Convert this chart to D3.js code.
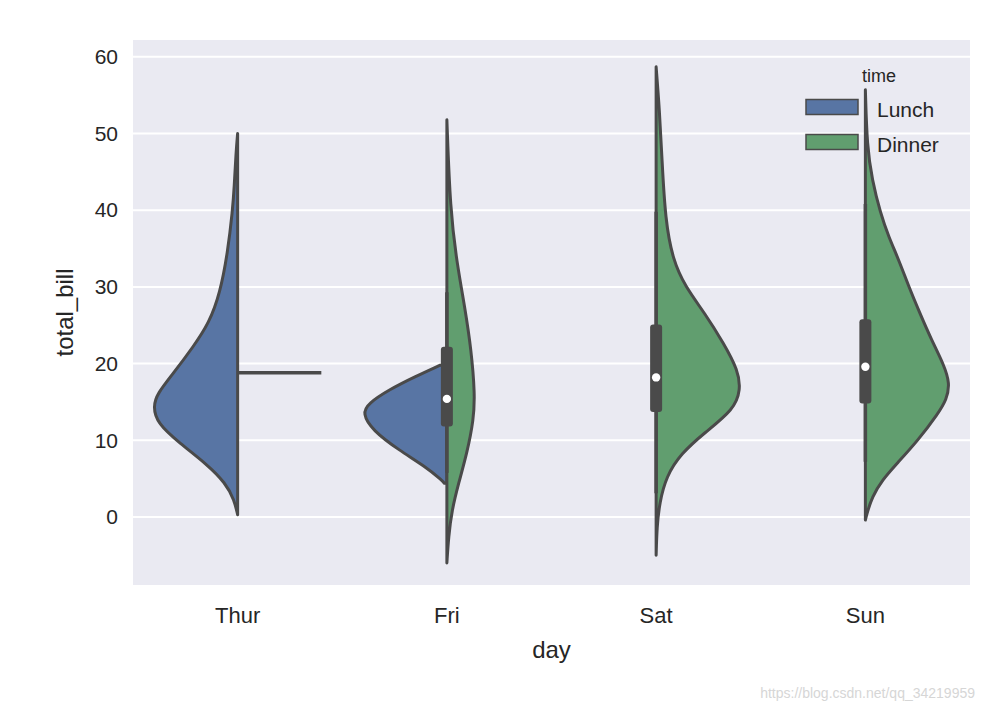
<!DOCTYPE html>
<html><head><meta charset="utf-8">
<script src="https://cdn.jsdelivr.net/npm/d3@7"></script>
<style>
body{margin:0;background:#fff}
text{font-family:"Liberation Sans",Arial,sans-serif;fill:#262626}
</style>
</head><body>
<svg id="c" width="984" height="712"></svg>
<script>
// ---- data ----
const days = ["Thur", "Fri", "Sat", "Sun"];
const times = ["Lunch", "Dinner"];
const colors = ["#5875A4", "#619E6F"];
const yTicks = [0, 10, 20, 30, 40, 50, 60];

// [total_bill, relative density] half-violin profiles
const thurLunch = [[50.0,0],[47.4,0.02],[43.1,0.04],[40.0,0.06],[34.4,0.12],[29.2,0.21],[25.3,0.34],[22.2,0.53],[18.7,0.77],[16.1,0.96],[14.4,1.01],[12.2,0.96],[9.6,0.69],[7.0,0.38],[4.4,0.14],[2.2,0.04],[0.3,0]];
const thurDinnerSingle = 18.8;
const friLunch = [[19.8,0.08],[18.3,0.38],[16.6,0.69],[14.8,0.94],[13.5,1.01],[11.3,0.89],[8.7,0.57],[6.6,0.26],[4.8,0.06],[4.4,0.03]];
const friDinner = [[51.8,0],[40.0,0.04],[33.1,0.12],[27.0,0.22],[21.8,0.29],[16.1,0.335],[12.7,0.32],[8.3,0.24],[4.4,0.14],[0.9,0.06],[-2.6,0.02],[-6.0,0]];
const satDinner = [[58.7,0],[53.1,0.04],[46.6,0.07],[38.7,0.11],[33.5,0.20],[30.0,0.35],[26.6,0.58],[22.6,0.81],[19.1,0.98],[16.6,1.01],[14.0,0.93],[10.9,0.57],[8.3,0.30],[5.3,0.12],[1.8,0.04],[-1.3,0.01],[-5.0,0]];
const sunDinner = [[55.7,0],[48.3,0.02],[44.0,0.08],[39.6,0.18],[36.5,0.28],[33.5,0.40],[30.0,0.52],[26.6,0.65],[23.1,0.79],[19.8,0.94],[17.4,1.01],[15.3,0.97],[13.5,0.87],[10.0,0.63],[7.0,0.38],[4.8,0.20],[2.6,0.08],[0.5,0.02],[-0.4,0]];

// inner box stats
const boxDays = ["Fri", "Sat", "Sun"];
const whiskerLow = [5.75, 3.1, 7.2];
const whiskerHigh = [29.3, 39.8, 40.8];
const q1 = [11.8, 13.7, 14.8];
const q3 = [22.2, 25.1, 25.8];
const medians = [15.4, 18.2, 19.6];

// ---- chart ----
const svg = d3.select("#c");
const L = 133, R = 970, T = 40, B = 585;
const x = d3.scaleBand().domain(days).range([L, R]);
const y = d3.scaleLinear().domain([-8.87, 62.2]).range([B, T]);
const w = d3.scaleLinear().domain([0, 1]).range([0, x.bandwidth() * 0.4]);
const color = d3.scaleOrdinal().domain(times).range(colors);
const edge = "#4a4a4a";

svg.append("rect").attr("x", L).attr("y", T).attr("width", R - L).attr("height", B - T).attr("fill", "#EAEAF2");
svg.append("g").selectAll("line").data(yTicks).join("line")
  .attr("x1", L).attr("x2", R).attr("y1", d => y(d)).attr("y2", d => y(d))
  .attr("stroke", "#fff").attr("stroke-width", 2);

const violins = [
  {day: "Thur", time: "Lunch", prof: thurLunch},
  {day: "Fri", time: "Lunch", prof: friLunch},
  {day: "Fri", time: "Dinner", prof: friDinner},
  {day: "Sat", time: "Dinner", prof: satDinner},
  {day: "Sun", time: "Dinner", prof: sunDinner}
];
const gv = svg.append("g");
violins.forEach(v => {
  const cx = x(v.day) + x.bandwidth() / 2;
  const s = v.time === "Lunch" ? -1 : 1;
  const area = d3.area().curve(d3.curveBasis)
    .y(d => y(d[0])).x0(cx).x1(d => cx + s * w(d[1]));
  gv.append("path").attr("d", area(v.prof))
    .attr("fill", color(v.time)).attr("stroke", edge).attr("stroke-width", 3)
    .attr("stroke-linejoin", "round");
});
// single observation (Thur dinner)
{
  const cx = x("Thur") + x.bandwidth() / 2;
  gv.append("line").attr("x1", cx).attr("x2", cx + w(1))
    .attr("y1", y(thurDinnerSingle)).attr("y2", y(thurDinnerSingle))
    .attr("stroke", edge).attr("stroke-width", 3.5);
}
// inner boxes
boxDays.forEach((d, i) => {
  const cx = x(d) + x.bandwidth() / 2;
  gv.append("line").attr("x1", cx).attr("x2", cx).attr("y1", y(whiskerLow[i])).attr("y2", y(whiskerHigh[i]))
    .attr("stroke", edge).attr("stroke-width", 3.5);
  gv.append("rect").attr("x", cx - 6).attr("width", 12)
    .attr("y", y(q3[i])).attr("height", y(q1[i]) - y(q3[i])).attr("rx", 3)
    .attr("fill", edge);
  gv.append("circle").attr("cx", cx).attr("cy", y(medians[i])).attr("r", 4.2).attr("fill", "#fff");
});

// axes
const ya = svg.append("g").attr("transform", `translate(${L},0)`)
  .call(d3.axisLeft(y).tickValues(yTicks).tickSize(0).tickPadding(15));
ya.select(".domain").remove();
ya.selectAll("text").attr("font-size", 21).attr("fill", "#262626").attr("font-family", "Liberation Sans, Arial, sans-serif");
const xa = svg.append("g").attr("transform", `translate(0,${B})`)
  .call(d3.axisBottom(x).tickSize(0).tickPadding(22));
xa.select(".domain").remove();
xa.selectAll("text").attr("font-size", 22).attr("fill", "#262626").attr("font-family", "Liberation Sans, Arial, sans-serif");

svg.append("text").attr("x", (L + R) / 2).attr("y", 658).attr("text-anchor", "middle")
  .attr("font-size", 24).text("day");
svg.append("text").attr("transform", `translate(73,${(T + B) / 2}) rotate(-90)`)
  .attr("text-anchor", "middle").attr("font-size", 24).text("total_bill");

// legend
const lg = svg.append("g");
lg.append("text").attr("x", 879).attr("y", 82).attr("text-anchor", "middle").attr("font-size", 18).text("time");
times.forEach((t, i) => {
  lg.append("rect").attr("x", 806).attr("y", 99.5 + i * 35).attr("width", 52).attr("height", 15)
    .attr("fill", color(t)).attr("stroke", edge).attr("stroke-width", 1.5);
  lg.append("text").attr("x", 877).attr("y", 117 + i * 35).attr("font-size", 21).text(t);
});

// watermark
svg.append("text").attr("x", 975).attr("y", 698).attr("text-anchor", "end")
  .attr("font-size", 14).style("fill", "#d6d6d6").text("https://blog.csdn.net/qq_34219959");
</script>
</body></html>
